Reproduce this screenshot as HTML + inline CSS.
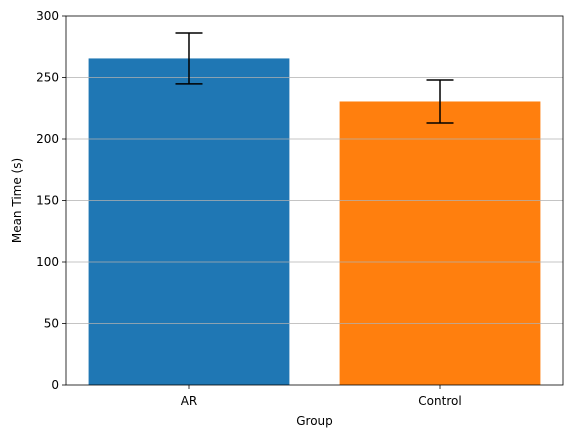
<!DOCTYPE html>
<html><head><meta charset="utf-8"><style>
body{margin:0;background:#fff;}
svg text{font-family:"DejaVu Sans","Liberation Sans",sans-serif;fill:#000;}
</style></head><body>
<svg id="chart" width="571" height="438" xmlns="http://www.w3.org/2000/svg">
<rect width="571" height="438" fill="#fff"/>
<g id="bars"></g><g id="grid"></g><g id="errs"></g><g id="axes"></g>
</svg>
<script>
const categories = ["AR", "Control"];
const means = [265.5, 230.5];
const errors = [20.7, 17.5];
const colors = ["#1f77b4", "#ff7f0e"];
const yTicks = [0, 50, 100, 150, 200, 250, 300];

const L=66, R=563, T=16, B=385;
const xMin=-0.49, xMax=1.49, yMax=300;
const xs = v => L + (v - xMin) / (xMax - xMin) * (R - L);
const ys = v => B - v / yMax * (B - T);
const NS="http://www.w3.org/2000/svg";
function mk(tag, attrs, parent){const e=document.createElementNS(NS,tag);for(const k in attrs)e.setAttribute(k,attrs[k]);document.getElementById(parent).appendChild(e);return e;}

categories.forEach((c,i)=>{
  const x0=xs(i-0.4), x1=xs(i+0.4);
  const b=mk('rect',{x:x0,y:ys(means[i]),width:x1-x0,height:B-ys(means[i]),fill:colors[i]},'bars');
  
  
  const cx=xs(i), yt=ys(means[i]+errors[i]), yb=ys(means[i]-errors[i]);
  const g=mk('g',{stroke:'#000','stroke-width':1.5},'errs');
  
  
  [[cx,yt,cx,yb],[cx-13.5,yt,cx+13.5,yt],[cx-13.5,yb,cx+13.5,yb]].forEach(l=>{
    const ln=document.createElementNS(NS,'line');
    ln.setAttribute('x1',l[0]);ln.setAttribute('y1',l[1]);ln.setAttribute('x2',l[2]);ln.setAttribute('y2',l[3]);
    g.appendChild(ln);
  });
  const tk=mk('line',{x1:cx,x2:cx,y1:B,y2:B+4,stroke:'#000','stroke-width':0.8},'axes');
  
  
  const t=mk('text',{x:cx,y:B+20,'text-anchor':'middle','font-size':12},'axes');
  t.textContent=c;
  
  
});

yTicks.forEach(v=>{
  const y=ys(v);
  if(v>0&&v<yMax){
    const gl=mk('line',{x1:L,x2:R,y1:y,y2:y,stroke:'#b0b0b0','stroke-width':0.8},'grid');
    
    
  }
  const tk=mk('line',{x1:L-4,x2:L,y1:y,y2:y,stroke:'#000','stroke-width':0.8},'axes');
  
  
  const t=mk('text',{x:L-7,y:y+4,'text-anchor':'end','font-size':12},'axes');
  t.textContent=v;
  
  
});

const fr=mk('rect',{x:L,y:T,width:R-L,height:B-T,fill:'none',stroke:'#000','stroke-width':0.8},'axes');


const xt=mk('text',{x:(L+R)/2,y:425,'text-anchor':'middle','font-size':12},'axes');
xt.textContent='Group';


const yt=mk('text',{x:0,y:0,'text-anchor':'middle','font-size':12,transform:'translate(21,'+((T+B)/2)+') rotate(-90)'},'axes');
yt.textContent='Mean Time (s)';


</script>
</body></html>
